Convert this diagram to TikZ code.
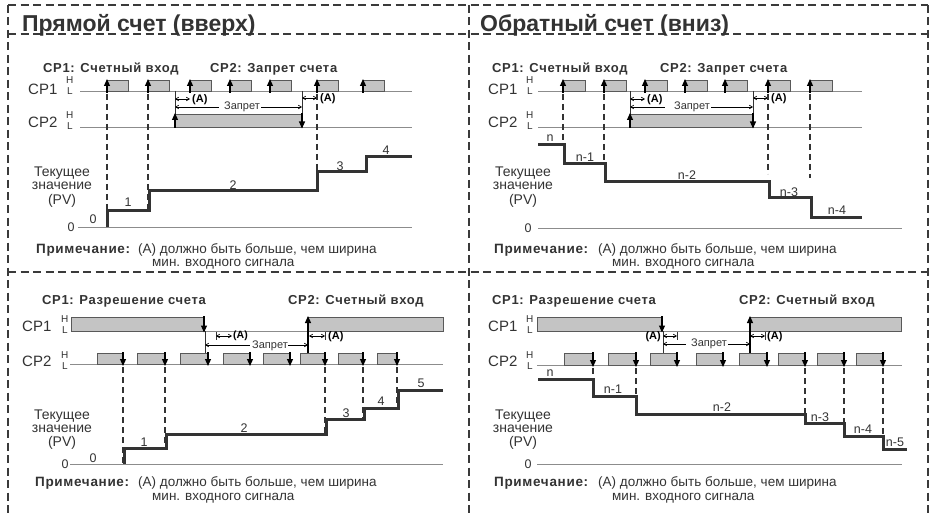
\documentclass[tikz,border=0pt]{standalone}
\usepackage{fontspec}
\setmainfont{Liberation Sans}
\newfontfamily\hb{Liberation Sans}[LetterSpace=5]
\usetikzlibrary{arrows.meta}
\definecolor{fr}{HTML}{3A3A3A}
\definecolor{ink}{HTML}{333333}
\definecolor{pgray}{HTML}{C4C4C4}
\definecolor{lgray}{HTML}{8C8C8C}
\begin{document}
\begin{tikzpicture}[x=1pt,y=-1pt,
 frame/.style={draw=fr,line width=2.6pt,dash pattern=on 8pt off 4.5pt},
 sigl/.style={draw=lgray,line width=0.9pt},
 pulse/.style={fill=pgray,draw=gray!70!black,line width=0.8pt},
 edgeup/.style={draw=black,line width=1.1pt,-{Triangle[length=7pt,width=6pt]}},
 thin/.style={draw=black!80,line width=0.7pt},
 dv/.style={draw=ink,line width=1.4pt,dash pattern=on 6pt off 4pt},
 pv/.style={draw=ink,line width=3pt},
 dimA/.style={draw=black,line width=0.7pt,{Straight Barb[length=3pt,width=3.5pt]}-{Straight Barb[length=3pt,width=3.5pt]}},
 ttl/.style={font=\fontsize{23}{26}\selectfont\bfseries,text=ink,anchor=base west,inner sep=0},
 head/.style={font=\fontsize{13}{14}\selectfont\hb\bfseries,text=ink,anchor=base west,inner sep=0},
 cpl/.style={font=\fontsize{15}{16}\selectfont,text=ink,anchor=base west,inner sep=0},
 hl/.style={font=\fontsize{10}{11}\selectfont,text=ink,anchor=base west,inner sep=0},
 val/.style={font=\fontsize{12.5}{13}\selectfont,text=ink,inner sep=0},
 pvt/.style={font=\fontsize{14}{15}\selectfont,text=ink,inner sep=0},
 note/.style={font=\fontsize{13.5}{14}\selectfont,text=ink,anchor=west,inner sep=0},
 noteb/.style={font=\fontsize{13.5}{14}\selectfont\hb\bfseries,text=ink,anchor=west,inner sep=0},
 alab/.style={font=\fontsize{11}{12}\selectfont\bfseries,text=black,inner sep=0},
 zap/.style={font=\fontsize{11}{12}\selectfont,text=ink,fill=white,inner sep=1pt}
]
\useasboundingbox (0,0) rectangle (931,513);
\fill[white] (0,0) rectangle (931,513);

% ---------- frame ----------
\draw[frame] (8,5) -- (928,5);
\draw[frame] (8,34) -- (928,34);
\draw[frame] (8,272) -- (928,272);
\draw[frame] (8,5) -- (8,513);
\draw[frame] (469,5) -- (469,513);
\draw[frame] (928,5) -- (928,513);

% ================= TOP LEFT =================
\node[ttl] (t1) at (22,32) {Прямой счет (вверх)};
\node[head] (h1a) at (43,73) {CP1: Счетный вход};
\node[head] (h1b) at (210,73) {CP2: Запрет счета};
\node[cpl] (c1a) at (28,95) {CP1};
\node[hl] (c1aH) at (66,84) {H};
\node[hl] (c1aL) at (67,95) {L};
\node[cpl] (c1b) at (28,128) {CP2};
\node[hl] (c1bH) at (66,119) {H};
\node[hl] (c1bL) at (67,130) {L};
\draw[sigl] (80,91) -- (412,91);
\draw[sigl] (80,127) -- (412,127);
\foreach \x in {107,148,190,230,270,317,363}{
  \draw[pulse] (\x,80) rectangle ++(21,11);
  \draw[edgeup] (\x,93) -- (\x,79);
}
\draw[pulse] (175,114) rectangle (302,127);
\draw[thin] (175,91) -- (175,114);
\draw[thin] (302,91) -- (302,114);
\draw[edgeup] (175,128) -- (175,113);
\draw[edgeup] (302,113) -- (302,128.5);
\draw[dimA] (175,99) -- (190,99);
\node[alab,anchor=west] (a1) at (192,99.5) {(A)};
\draw[dimA] (302,98) -- (317,98);
\node[alab,anchor=west] (a2) at (320,98.5) {(A)};
\draw[dimA] (175,107) -- (302,107);
\node[zap] (z1) at (240,107) {\hspace{4pt}Запрет\hspace{6pt}};
\draw[dv] (107,94) -- (107,227);
\draw[dv] (148,94) -- (148,210);
\draw[dv] (317,94) -- (317,190);
\draw[sigl] (78,227) -- (412,227);
\node[val] (z0a) at (71,227) {0};
\draw[pv,line join=miter] (107,227) -- (107,210) -- (149,210) -- (149,191) -- (317,191) -- (317,172) -- (366,172) -- (366,157) -- (412,157);
\node[val] (v0) at (93,219) {0};
\node[val] (v1) at (128,202) {1};
\node[val] (v2) at (233,185) {2};
\node[val] (v3) at (340,166) {3};
\node[val] (v4) at (386,150) {4};
\node[pvt] (p1a) at (62,173) {Текущее};
\node[pvt] (p1b) at (62,186) {значение};
\node[pvt] (p1c) at (62,201) {(PV)};
\node[noteb] (n1a) at (36,250) {Примечание:};
\node[note] (n1b) at (138,250) {(A) должно быть больше, чем ширина};
\node[note] (n1c) at (152,264) {мин. входного сигнала};

% ================= TOP RIGHT =================
\node[ttl] (t2) at (480,32) {Обратный счет (вниз)};
\node[head] (h2a) at (492,73) {CP1: Счетный вход};
\node[head] (h2b) at (660,73) {CP2: Запрет счета};
\node[cpl] (c2a) at (488,95) {CP1};
\node[hl] (c2aH) at (526,84) {H};
\node[hl] (c2aL) at (527,95) {L};
\node[cpl] (c2b) at (488,128) {CP2};
\node[hl] (c2bH) at (526,119) {H};
\node[hl] (c2bL) at (527,130) {L};
\draw[sigl] (538,91) -- (862,91);
\draw[sigl] (538,127) -- (862,127);
\foreach \x in {563,604,645,685,725,768,810}{
  \draw[pulse] (\x,80) rectangle ++(22,11);
  \draw[edgeup] (\x,93) -- (\x,79);
}
\draw[pulse] (630,114) rectangle (753,127);
\draw[thin] (630,91) -- (630,114);
\draw[thin] (753,91) -- (753,114);
\draw[edgeup] (630,128) -- (630,113);
\draw[edgeup] (753,113) -- (753,128.5);
\draw[dimA] (630,99) -- (645,99);
\node[alab,anchor=west] (a3) at (647,99.5) {(A)};
\draw[dimA] (753,98) -- (768,98);
\node[alab,anchor=west] (a4) at (771,98.5) {(A)};
\draw[dimA] (630,107) -- (753,107);
\node[zap] (z2) at (688,107) {\hspace{8pt}Запрет\hspace{12pt}};
\draw[dv] (563,94) -- (563,145);
\draw[dv] (604,94) -- (604,164);
\draw[dv] (768,94) -- (768,174);
\draw[dv] (810,94) -- (810,178);
\draw[sigl] (538,228) -- (902,228);
\node[val] (z0b) at (528,228) {0};
\draw[pv,line join=miter] (538,145) -- (564,145) -- (564,164) -- (605,164) -- (605,182) -- (769,182) -- (769,198) -- (811,198) -- (811,217) -- (862,217);
\node[val] (w0) at (550,138) {n};
\node[val] (w1) at (585,157) {n-1};
\node[val] (w2) at (687,175) {n-2};
\node[val] (w3) at (789,192) {n-3};
\node[val] (w4) at (837,210) {n-4};
\node[pvt] (p2a) at (523,173) {Текущее};
\node[pvt] (p2b) at (523,186) {значение};
\node[pvt] (p2c) at (523,201) {(PV)};
\node[noteb] (n2a) at (494,250) {Примечание:};
\node[note] (n2b) at (598,250) {(A) должно быть больше, чем ширина};
\node[note] (n2c) at (612,264) {мин. входного сигнала};

% ================= BOTTOM LEFT =================
\node[head] (h3a) at (42,304) {CP1: Разрешение счета};
\node[head] (h3b) at (288,304) {CP2: Счетный вход};
\node[cpl] (c3a) at (22,331) {CP1};
\node[hl] (c3aH) at (61,322) {H};
\node[hl] (c3aL) at (62,333) {L};
\node[cpl] (c3b) at (22,366) {CP2};
\node[hl] (c3bH) at (61,358) {H};
\node[hl] (c3bL) at (62,369) {L};
\draw[sigl] (71,331) -- (443,331);
\draw[sigl] (70,364) -- (443,364);
\draw[pulse] (71,317) rectangle (204,331);
\draw[pulse] (308,317) rectangle (443,331);
\foreach \a/\b in {97/123,137/165,180/208,223/250,263/290,300/325,338/363,377/397}{
  \draw[pulse] (\a,353) rectangle (\b,364);
  \draw[edgeup] (\b,352) -- (\b,366);
}
\draw[thin] (205,331) -- (205,353);
\draw[edgeup] (204,316) -- (204,332.5);
\draw[edgeup] (308,353) -- (308,316);
\draw[thin] (216,332) -- (216,340);
\draw[dimA] (216,336) -- (232,336);
\node[alab,anchor=west,font=\fontsize{10.5}{11}\selectfont\bfseries] (a5) at (233,335.5) {(A)};
\draw[thin] (325,332) -- (325,340);
\draw[dimA] (309,336) -- (325,336);
\node[alab,anchor=west] (a6) at (328,336.5) {(A)};
\draw[dimA] (205,345) -- (308,345);
\node[zap,inner sep=0.5pt] (z3) at (269,345.5) {\hspace{2pt}Запрет\hspace{3pt}};
\draw[dv] (123,367) -- (123,464);
\draw[dv] (165,367) -- (165,448);
\draw[dv] (325,367) -- (325,434);
\draw[dv] (363,367) -- (363,419);
\draw[dv] (397,367) -- (397,408);
\draw[sigl] (70,464) -- (443,464);
\node[val] (z0c) at (65,464) {0};
\draw[pv,line join=miter] (124,464) -- (124,448) -- (166,448) -- (166,434) -- (326,434) -- (326,419) -- (364,419) -- (364,408) -- (398,408) -- (398,390) -- (443,390);
\node[val] (u0) at (93,458) {0};
\node[val] (u1) at (144,442) {1};
\node[val] (u2) at (244,428) {2};
\node[val] (u3) at (346,413) {3};
\node[val] (u4) at (381,401) {4};
\node[val] (u5) at (421,383) {5};
\node[pvt] (p3a) at (62,416) {Текущее};
\node[pvt] (p3b) at (62,429) {значение};
\node[pvt] (p3c) at (62,443) {(PV)};
\node[noteb] (n3a) at (35,483) {Примечание:};
\node[note] (n3b) at (138,483) {(A) должно быть больше, чем ширина};
\node[note] (n3c) at (152,498) {мин. входного сигнала};

% ================= BOTTOM RIGHT =================
\node[head] (h4a) at (492,304) {CP1: Разрешение счета};
\node[head] (h4b) at (739,304) {CP2: Счетный вход};
\node[cpl] (c4a) at (488,331) {CP1};
\node[hl] (c4aH) at (526,322) {H};
\node[hl] (c4aL) at (527,333) {L};
\node[cpl] (c4b) at (488,366) {CP2};
\node[hl] (c4bH) at (526,358) {H};
\node[hl] (c4bL) at (527,369) {L};
\draw[sigl] (537,331) -- (901,331);
\draw[sigl] (537,365) -- (902,365);
\draw[pulse] (537,317) rectangle (662,331);
\draw[pulse] (750,317) rectangle (901,331);
\foreach \a/\b in {564/593,608/636,650/677,696/723,739/767,778/805,817/844,856/883}{
  \draw[pulse] (\a,353) rectangle (\b,365);
  \draw[edgeup] (\b,352) -- (\b,367);
}
\draw[thin] (663,331) -- (663,353);
\draw[edgeup] (662,316) -- (662,332.5);
\draw[edgeup] (750,353) -- (750,316);
\draw[thin] (677,332) -- (677,340);
\draw[dimA] (663,336) -- (677,336);
\node[alab,anchor=east] (a7) at (661,336.5) {(A)};
\draw[thin] (765,332) -- (765,340);
\draw[dimA] (750,336) -- (765,336);
\node[alab,anchor=west] (a8) at (767,336.5) {(A)};
\draw[dimA] (663,344) -- (750,344);
\node[zap] (z4) at (707,344) {\hspace{4pt}Запрет\hspace{4pt}};
\draw[dv] (593,368) -- (593,379);
\draw[dv] (636,368) -- (636,396);
\draw[dv] (805,368) -- (805,414);
\draw[dv] (844,368) -- (844,423);
\draw[dv] (883,368) -- (883,436);
\draw[sigl] (537,464) -- (902,464);
\node[val] (z0d) at (528,464) {0};
\draw[pv,line join=miter] (538,379) -- (593,379) -- (593,396) -- (636,396) -- (636,414) -- (805,414) -- (805,423) -- (844,423) -- (844,436) -- (883,436) -- (883,449) -- (907,449);
\node[val] (r0) at (550,373) {n};
\node[val] (r1) at (613,389) {n-1};
\node[val] (r2) at (722,407) {n-2};
\node[val] (r3) at (820,417) {n-3};
\node[val] (r4) at (863,429) {n-4};
\node[val] (r5) at (895,442) {n-5};
\node[pvt] (p4a) at (523,416) {Текущее};
\node[pvt] (p4b) at (523,429) {значение};
\node[pvt] (p4c) at (523,443) {(PV)};
\node[noteb] (n4a) at (494,483) {Примечание:};
\node[note] (n4b) at (598,483) {(A) должно быть больше, чем ширина};
\node[note] (n4c) at (612,498) {мин. входного сигнала};
\end{tikzpicture}
\end{document}
